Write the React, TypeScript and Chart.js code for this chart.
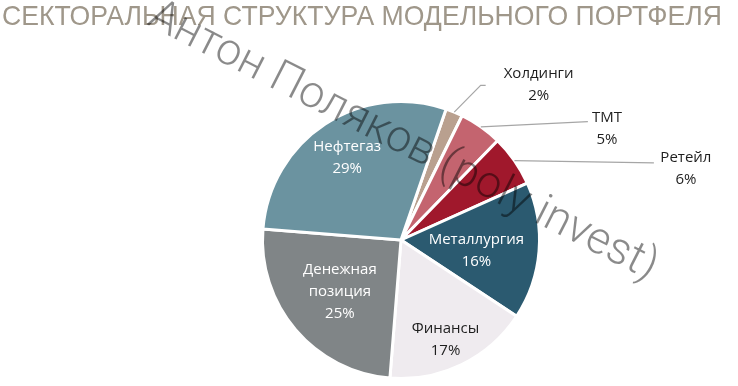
import React, { useEffect, useRef } from 'react';
import { Chart, registerables } from 'chart.js';

Chart.register(...registerables);

const categories = ['Холдинги', 'ТМТ', 'Ретейл', 'Металлургия', 'Финансы', 'Денежная позиция', 'Нефтегаз'];
const values = [2, 5, 6, 16, 17, 25, 29];
const colors = ['#b9a08f', '#c4646f', '#a0182c', '#2b5a70', '#efebef', '#808587', '#6b93a0'];
const titleText = 'СЕКТОРАЛЬНАЯ СТРУКТУРА МОДЕЛЬНОГО ПОРТФЕЛЯ';
const watermarkText = 'Антон Поляков (poly invest)';

// label styling (placement relative to each arc)
type LabelStyle = {
  inside: boolean;
  color: string;
  factor: number; // distance from centre as fraction of radius
  delta?: number; // angular offset (deg) from arc middle
  elbow?: [number, number]; // leader line elbow relative to label centre
  end?: [number, number]; // leader line end relative to label centre
};
const labelStyles: LabelStyle[] = [
  { inside: false, color: '#1e1e1e', factor: 1.5, delta: 18.9, elbow: [-58, 1], end: [-53, 1] },
  { inside: false, color: '#1e1e1e', factor: 1.69, delta: 26.4, end: [-19, -7] },
  { inside: false, color: '#1e1e1e', factor: 2.12, delta: 21, end: [-32, -6] },
  { inside: true, color: '#ffffff', factor: 0.55, delta: 3.5 },
  { inside: true, color: '#1e1e1e', factor: 0.79, delta: 2 },
  { inside: true, color: '#ffffff', factor: 0.58 },
  { inside: true, color: '#ffffff', factor: 0.71 },
];

const LABEL_FONT = '15px "Open Sans", "Noto Sans", sans-serif';
const LINE_H = 22;

const overlayPlugin = {
  id: 'overlay',
  afterDraw(chart: any) {
    const ctx: CanvasRenderingContext2D = chart.ctx;
    const meta = chart.getDatasetMeta(0);
    const total = values.reduce((a, b) => a + b, 0);

    // labels
    meta.data.forEach((arc: any, i: number) => {
      const st = labelStyles[i];
      const { x, y, startAngle, endAngle, outerRadius } = arc.getProps(
        ['x', 'y', 'startAngle', 'endAngle', 'outerRadius'],
        true
      );
      const mid = (startAngle + endAngle) / 2;
      const ang = mid + ((st.delta || 0) * Math.PI) / 180;
      const lx = x + Math.cos(ang) * outerRadius * st.factor;
      const ly = y + Math.sin(ang) * outerRadius * st.factor;
      const pct = Math.round((values[i] / total) * 100) + '%';
      const lines = [...categories[i].split(' '), pct];

      if (!st.inside && st.end) {
        ctx.save();
        ctx.strokeStyle = '#a6a6a6';
        ctx.lineWidth = 1.2;
        ctx.beginPath();
        ctx.moveTo(x + Math.cos(mid) * outerRadius, y + Math.sin(mid) * outerRadius);
        if (st.elbow) ctx.lineTo(lx + st.elbow[0], ly + st.elbow[1]);
        ctx.lineTo(lx + st.end[0], ly + st.end[1]);
        ctx.stroke();
        ctx.restore();
      }

      ctx.save();
      ctx.font = LABEL_FONT;
      ctx.fillStyle = st.color;
      ctx.textAlign = 'center';
      ctx.textBaseline = 'middle';
      const top = ly - ((lines.length - 1) * LINE_H) / 2;
      lines.forEach((t, k) => ctx.fillText(t, lx, top + k * LINE_H));
      ctx.restore();
    });

    // title
    ctx.save();
    ctx.font = '28px "Liberation Sans", Arial, sans-serif';
    ctx.fillStyle = '#9f978a';
    ctx.textBaseline = 'alphabetic';
    ctx.textAlign = 'left';
    const tw = ctx.measureText(titleText).width;
    ctx.translate(2, 25);
    ctx.scale(720 / tw, 1);
    ctx.fillText(titleText, 0, 0);
    ctx.restore();

    // watermark
    ctx.save();
    ctx.font = '300 45px Roboto, "Liberation Sans", sans-serif';
    ctx.fillStyle = 'rgba(0,0,0,0.46)';
    ctx.textBaseline = 'alphabetic';
    ctx.textAlign = 'left';
    const ww = ctx.measureText(watermarkText).width;
    ctx.translate(146, 24);
    ctx.rotate((27 * Math.PI) / 180);
    ctx.scale(565 / ww, 1);
    ctx.fillText(watermarkText, 0, 0);
    ctx.restore();
  },
};

export default function App() {
  const ref = useRef<HTMLCanvasElement | null>(null);
  useEffect(() => {
    if (!ref.current) return;
    const chart = new Chart(ref.current, {
      type: 'pie',
      data: {
        labels: categories,
        datasets: [
          {
            data: values,
            backgroundColor: colors,
            borderColor: '#ffffff',
            borderWidth: 3,
          },
        ],
      },
      options: {
        responsive: false,
        animation: false,
        rotation: 19,
        layout: { padding: { left: 261, right: 197, top: 100, bottom: 6 } },
        plugins: {
          legend: { display: false },
          title: { display: false },
          tooltip: { enabled: false },
        },
      },
      plugins: [overlayPlugin],
    });
    return () => chart.destroy();
  }, []);
  return (
    <div style={{ position: 'absolute', left: 0, top: 0, width: 738, height: 386, background: '#fff' }}>
      <canvas ref={ref} width={738} height={386} />
    </div>
  );
}
